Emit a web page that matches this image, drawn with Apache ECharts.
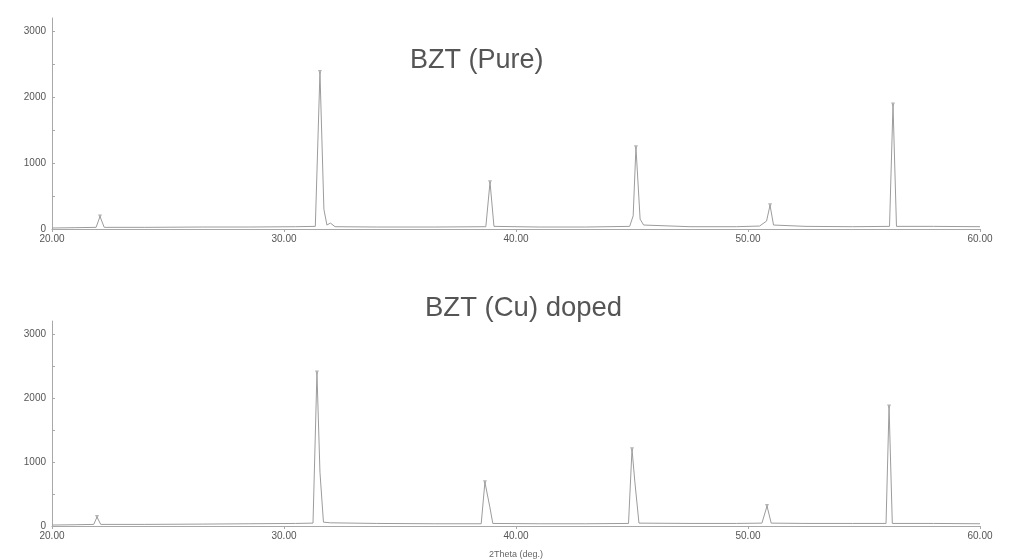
<!DOCTYPE html>
<html>
<head>
<meta charset="utf-8">
<script src="https://cdn.jsdelivr.net/npm/echarts@6/dist/echarts.min.js"></script>
<style>
  html, body { margin: 0; padding: 0; background: #fff; }
  #chart { width: 1009px; height: 560px; }
</style>
</head>
<body>
<div id="chart"></div>
<script>
// XRD patterns of BZT ceramics, intensity (counts) vs 2θ (degrees)
const pureAngle  = [20.0, 21.0, 21.9, 22.07, 22.25, 24.0, 26.5, 28.5, 30.5, 31.35, 31.55, 31.72, 31.85, 32.0, 32.2, 34.0, 36.5, 38.7, 38.88, 39.05, 41.0, 43.0, 44.9, 45.05, 45.17, 45.35, 45.5, 47.5, 49.5, 50.5, 50.8, 50.95, 51.1, 52.5, 54.5, 56.1, 56.25, 56.4, 58.0, 60.0];
const pureCounts = [15, 20, 25, 190, 25, 25, 30, 30, 35, 40, 2380, 300, 60, 90, 35, 30, 30, 35, 710, 40, 30, 30, 40, 200, 1240, 150, 60, 35, 35, 45, 120, 360, 60, 40, 35, 40, 1890, 40, 40, 35];

const cuAngle  = [20.0, 21.0, 21.8, 21.94, 22.1, 24.0, 26.5, 28.5, 30.5, 31.25, 31.42, 31.55, 31.7, 32.0, 34.0, 36.5, 38.5, 38.66, 38.87, 39.0, 41.0, 43.0, 44.85, 45.0, 45.12, 45.3, 47.5, 49.5, 50.6, 50.82, 51.0, 52.5, 54.5, 55.95, 56.08, 56.22, 58.0, 60.0];
const cuCounts = [15, 20, 25, 140, 25, 25, 30, 35, 40, 45, 2395, 840, 60, 50, 40, 35, 35, 684, 300, 40, 35, 35, 40, 1198, 700, 45, 40, 40, 45, 311, 45, 40, 40, 40, 1866, 40, 40, 35];

// peak maxima marked on each pattern
const purePeakAngle  = [22.07, 31.55, 38.88, 45.17, 50.95, 56.25];
const purePeakCounts = [190, 2380, 710, 1240, 360, 1890];
const cuPeakAngle    = [21.94, 31.42, 38.66, 45.0, 50.82, 56.08];
const cuPeakCounts   = [140, 2395, 684, 1198, 311, 1866];

const panelTitles = ['BZT (Pure)', 'BZT (Cu) doped'];
const xAxisName = '2Theta (deg.)';

const zip = (a, b) => a.map((v, i) => [v, b[i]]);

const font = 'Liberation Sans, Arial, sans-serif';
const axisGrey = '#a8a8a8';
const lineGrey = '#9c9c9c';

function xAxisFor(gridIndex, withName) {
  return {
    type: 'value', gridIndex, min: 20, max: 60, interval: 10,
    axisLine: { show: true, onZero: false, lineStyle: { color: axisGrey, width: 1 } },
    axisTick: { show: true, length: 3, lineStyle: { color: axisGrey } },
    splitLine: { show: false },
    axisLabel: { formatter: v => v.toFixed(2), color: '#555', fontSize: 10, fontFamily: font, margin: 5 },
    name: withName ? xAxisName : '',
    nameLocation: 'middle', nameGap: 24,
    nameTextStyle: { color: '#666', fontSize: 9, fontFamily: font }
  };
}

function yAxisFor(gridIndex) {
  return {
    type: 'value', gridIndex, min: 0, max: 3200, interval: 500,
    axisLine: { show: true, lineStyle: { color: axisGrey, width: 1 } },
    axisTick: { show: true, length: 3, inside: true, lineStyle: { color: axisGrey } },
    splitLine: { show: false },
    axisLabel: {
      formatter: v => (v % 1000 === 0 ? String(v) : ''),
      showMaxLabel: false,
      color: '#555', fontSize: 10, fontFamily: font, margin: 6
    }
  };
}

function pattern(idx, ang, cnt) {
  return {
    type: 'line', xAxisIndex: idx, yAxisIndex: idx,
    data: zip(ang, cnt), showSymbol: false, silent: true,
    lineStyle: { color: lineGrey, width: 1 }
  };
}

function peaks(idx, ang, cnt) {
  return {
    type: 'scatter', xAxisIndex: idx, yAxisIndex: idx,
    data: zip(ang, cnt), symbol: 'triangle', symbolSize: 4, symbolRotate: 180,
    itemStyle: { color: '#a0a0a0' }, silent: true
  };
}

const chart = echarts.init(document.getElementById('chart'), null, { renderer: 'canvas' });
chart.setOption({
  backgroundColor: '#fff',
  animation: false,
  title: [
    { text: panelTitles[0], left: 405, top: 42,
      textStyle: { fontFamily: font, fontWeight: 'normal', fontSize: 27, color: '#555' } },
    { text: panelTitles[1], left: 420, top: 289,
      textStyle: { fontFamily: font, fontWeight: 'normal', fontSize: 27.5, color: '#555' } }
  ],
  grid: [
    { left: 52, right: 29, top: 18, height: 211 },
    { left: 52, right: 29, top: 321, height: 206 }
  ],
  xAxis: [xAxisFor(0, false), xAxisFor(1, true)],
  yAxis: [yAxisFor(0), yAxisFor(1)],
  series: [
    pattern(0, pureAngle, pureCounts),
    peaks(0, purePeakAngle, purePeakCounts),
    pattern(1, cuAngle, cuCounts),
    peaks(1, cuPeakAngle, cuPeakCounts)
  ]
});
</script>
</body>
</html>
